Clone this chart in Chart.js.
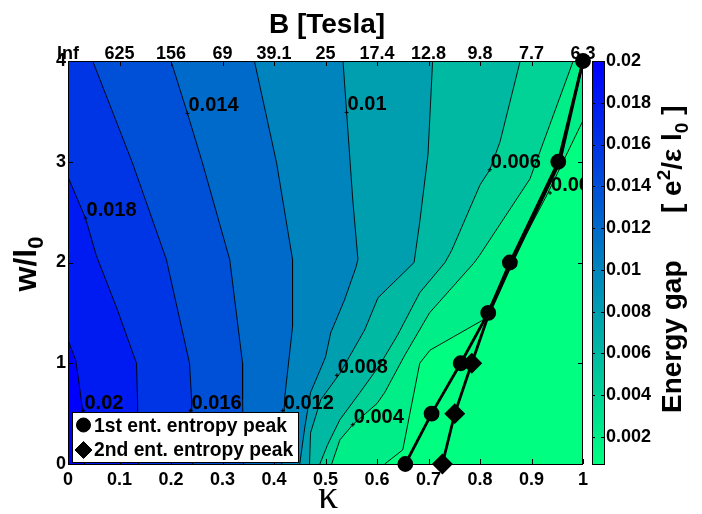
<!DOCTYPE html>
<html>
<head>
<meta charset="utf-8">
<script src="https://cdn.jsdelivr.net/npm/chart.js@4.4.1/dist/chart.umd.min.js"></script>
<style>
  html, body { margin: 0; background: #fff; }
  #wrap { position: relative; width: 702px; height: 514px; }
</style>
</head>
<body>
<div id="wrap"><canvas id="c"></canvas></div>
<script>
// ---- data ----
const levels = [0.002, 0.004, 0.006, 0.008, 0.01, 0.012, 0.014, 0.016, 0.018, 0.02];

// contour paths, [kappa, w/l0] pairs, top/left end first
const c002 = [[1,3.41],[0.93,2.67],[0.868,2.07],[0.806,1.43],[0.703,1.13],[0.683,1.0],[0.65,0.14],[0.615,0]];
const c004 = [[0.981,4],[0.897,2.83],[0.799,2.07],[0.789,2.0],[0.702,1.5],[0.654,1.08],[0.615,0.71],[0.6,0.6],[0.553,0.39],[0.528,0.24],[0.512,0]];
const c006 = [[0.878,4],[0.839,3.2],[0.819,2.92],[0.8,2.77],[0.745,2.12],[0.732,2.0],[0.683,1.7],[0.64,1.28],[0.605,0.98],[0.567,0.71],[0.528,0.44],[0.504,0.19],[0.489,0]];
const c008 = [[0.708,4],[0.699,3.07],[0.683,2.4],[0.672,2.0],[0.602,1.65],[0.576,1.33],[0.528,0.9],[0.491,0.64],[0.471,0.31],[0.469,0]];
const c010 = [[0.534,4],[0.541,3.49],[0.553,2.62],[0.563,2.03],[0.559,1.95],[0.537,1.63],[0.51,1.3],[0.5,1.06],[0.471,0.71],[0.46,0.37],[0.45,0]];
const c012 = [[0.362,4],[0.405,2.99],[0.436,2.03],[0.436,1.36],[0.421,0.67],[0.415,0]];
const c014 = [[0.2,4],[0.232,3.48],[0.261,2.99],[0.314,2.03],[0.339,1.0],[0.339,0.64],[0.341,0]];
const c016 = [[0.048,4],[0.125,2.99],[0.191,2.03],[0.236,1.0],[0.24,0.64],[0.242,0]];
const c018 = [[0,2.85],[0.034,2.44],[0.055,2.07],[0.096,1.53],[0.133,1.0],[0.135,0.64],[0.137,0]];
const c020 = [[0,1.23],[0.015,1.03],[0.022,0.78],[0.028,0.54],[0.032,0]];
const contours = [c002, c004, c006, c008, c010, c012, c014, c016, c018, c020];

// contour labels: value, kappa, w
const labelVals = [0.02, 0.018, 0.016, 0.014, 0.012, 0.01, 0.008, 0.006, 0.004, 0.002];
const labelK    = [0.030, 0.034, 0.238, 0.232, 0.417, 0.541, 0.522, 0.819, 0.553, 0.936];
const labelW    = [0.53, 2.44, 0.53, 3.48, 0.53, 3.49, 0.88, 2.92, 0.39, 2.69];

// entanglement entropy peaks
const peakW  = [0, 0.5, 1, 1.5, 2, 3, 4];
const peak1K = [0.655, 0.706, 0.7625, 0.816, 0.858, 0.952, 1.0];
const peak2K = [0.727, 0.751, 0.784, 0.818, 0.862, 0.955, 1.0];

// axes
const kappaTicks = [0, 0.1, 0.2, 0.3, 0.4, 0.5, 0.6, 0.7, 0.8, 0.9, 1];
const bLabels = ['Inf', '625', '156', '69', '39.1', '25', '17.4', '12.8', '9.8', '7.7', '6.3'];
const wTicks = [0, 1, 2, 3, 4];
const cbTicks = [0.002, 0.004, 0.006, 0.008, 0.01, 0.012, 0.014, 0.016, 0.018, 0.02];
const cMin = 0.0007, cMax = 0.02;

// ---- helpers ----
const FONT = "'Liberation Sans', Arial, sans-serif";
const bold = s => `bold ${s}px ${FONT}`;

// winter colormap, blue at cMax, green at cMin
function gapColor(v){
  const s = Math.min(1, Math.max(0, (v - cMin) / (cMax - cMin)));
  return `rgb(0,${Math.round(255*(1-s))},${Math.round(127.5+127.5*s)})`;
}

function toPx(chart, k, w){
  return [chart.scales.x.getPixelForValue(k), chart.scales.y.getPixelForValue(w)];
}

// draw runs of text along one baseline, with sub/superscript offsets
function richText(ctx, parts, x, y, angle, align){
  ctx.save();
  ctx.translate(x, y);
  ctx.rotate(angle);
  let total = 0;
  parts.forEach(p => { ctx.font = p.font; total += ctx.measureText(p.t).width; });
  let cx = align === 'center' ? -total/2 : 0;
  ctx.textAlign = 'left';
  ctx.textBaseline = 'alphabetic';
  parts.forEach(p => {
    ctx.font = p.font;
    ctx.fillText(p.t, cx, p.dy || 0);
    cx += ctx.measureText(p.t).width;
  });
  ctx.restore();
}

const contourPlot = {
  id: 'contourPlot',
  beforeDatasetsDraw(chart){
    const {ctx, chartArea: a} = chart;
    ctx.save();
    ctx.beginPath(); ctx.rect(a.left, a.top, a.width, a.height); ctx.clip();
    ctx.fillStyle = gapColor(cMin);
    ctx.fillRect(a.left, a.top, a.width, a.height);
    // region above each level = area left of its contour
    contours.forEach((pts, i) => {
      const ring = pts.slice();
      ring.push([0, 0]);
      if (pts[0][0] > 0) ring.push([0, 4]);
      if (pts[0][0] >= 1 && pts[0][1] < 4) ring.push([1, 4]);
      ctx.beginPath();
      ring.forEach(([k, w], j) => {
        const [X, Y] = toPx(chart, k, w);
        j ? ctx.lineTo(X, Y) : ctx.moveTo(X, Y);
      });
      ctx.closePath();
      ctx.fillStyle = gapColor(levels[i]);
      ctx.fill();
    });
    ctx.restore();
  },
  afterDatasetsDraw(chart){
    const {ctx, chartArea: a, scales} = chart;
    ctx.save();
    ctx.strokeStyle = '#000';
    ctx.lineWidth = 1;
    // inward ticks
    ctx.beginPath();
    kappaTicks.forEach(k => {
      const X = Math.round(scales.x.getPixelForValue(k)) + 0.5;
      ctx.moveTo(X, a.bottom); ctx.lineTo(X, a.bottom - 5);
      ctx.moveTo(X, a.top); ctx.lineTo(X, a.top + 5);
    });
    wTicks.forEach(w => {
      const Y = Math.round(scales.y.getPixelForValue(w)) + 0.5;
      ctx.moveTo(a.left, Y); ctx.lineTo(a.left + 5, Y);
      ctx.moveTo(a.right, Y); ctx.lineTo(a.right - 5, Y);
    });
    ctx.stroke();

    // contour labels
    ctx.beginPath(); ctx.rect(a.left, a.top, a.width, a.height); ctx.clip();
    ctx.fillStyle = '#000';
    ctx.font = bold(20);
    ctx.textAlign = 'left';
    ctx.textBaseline = 'alphabetic';
    labelVals.forEach((v, i) => {
      const [X, Y] = toPx(chart, labelK[i], labelW[i]);
      ctx.beginPath();
      ctx.moveTo(X - 2, Y); ctx.lineTo(X + 2, Y);
      ctx.moveTo(X, Y - 2); ctx.lineTo(X, Y + 2);
      ctx.stroke();
      ctx.fillText(String(v), X + 1, Y - 2);
    });
    ctx.restore();

    // axes box
    ctx.save();
    ctx.strokeStyle = '#000';
    ctx.lineWidth = 1;
    ctx.strokeRect(a.left + 0.5, a.top + 0.5, a.width - 1, a.height);
    ctx.restore();
  },
  afterDraw(chart){
    const {ctx, chartArea: a, scales} = chart;
    const yc = scales.yc;
    ctx.save();

    // colorbar
    const bx = a.right + 9, bw = 12;
    const top = yc.getPixelForValue(cMax), bot = yc.getPixelForValue(cMin);
    const g = ctx.createLinearGradient(0, top, 0, bot);
    g.addColorStop(0, gapColor(cMax));
    g.addColorStop(1, gapColor(cMin));
    ctx.fillStyle = g;
    ctx.fillRect(bx, top, bw, bot - top);
    ctx.strokeStyle = '#000';
    ctx.lineWidth = 1;
    ctx.strokeRect(bx + 0.5, top + 0.5, bw, bot - top);
    ctx.beginPath();
    cbTicks.forEach(v => {
      const Y = Math.round(yc.getPixelForValue(v)) + 0.5;
      ctx.moveTo(bx, Y); ctx.lineTo(bx + 3, Y);
      ctx.moveTo(bx + bw, Y); ctx.lineTo(bx + bw - 3, Y);
    });
    ctx.stroke();

    // titles
    ctx.fillStyle = '#000';
    ctx.font = bold(28);
    ctx.textAlign = 'center';
    ctx.textBaseline = 'alphabetic';
    ctx.fillText('B [Tesla]', 327, 33);

    ctx.font = "40px 'Liberation Serif', 'DejaVu Serif', serif";
    ctx.fillText('κ', 328, 508);

    richText(ctx, [
      {t: 'w/l', font: bold(32)},
      {t: '0', font: bold(22), dy: 7}
    ], 36, 264, -Math.PI/2, 'center');

    richText(ctx, [{t: 'Energy gap', font: bold(28)}], 681, 413, -Math.PI/2, 'left');
    richText(ctx, [
      {t: '[ e', font: bold(28)},
      {t: '2', font: bold(19), dy: -11},
      {t: '/ε l', font: bold(28)},
      {t: '0', font: bold(19), dy: 7},
      {t: ' ]', font: bold(28)}
    ], 681, 213, -Math.PI/2, 'left');

    // legend
    const lx = a.left + 4, ly = a.bottom - 52, lw = 226, lh = 50;
    ctx.fillStyle = '#fff';
    ctx.fillRect(lx, ly, lw, lh);
    ctx.strokeStyle = '#000';
    ctx.strokeRect(lx + 0.5, ly + 0.5, lw, lh);
    ctx.fillStyle = '#000';
    Chart.helpers.drawPoint(ctx, {pointStyle: 'circle', radius: 7, borderWidth: 1, rotation: 0}, lx + 11.5, ly + 13);
    Chart.helpers.drawPoint(ctx, {pointStyle: 'rectRot', radius: 8.5, borderWidth: 1, rotation: 0}, lx + 11.5, ly + 38);
    ctx.font = bold(19.3);
    ctx.textAlign = 'left';
    ctx.fillText('1st ent. entropy peak', lx + 22, ly + 20);
    ctx.fillText('2nd ent. entropy peak', lx + 22, ly + 44);
    ctx.restore();
  }
};

// ---- datasets ----
const lineSets = contours.map(pts => ({
  data: pts.map(([k, w]) => ({x: k, y: w})),
  showLine: true,
  borderColor: '#000',
  borderWidth: 0.9,
  pointRadius: 0,
  order: 5
}));

const peak1 = {
  label: '1st ent. entropy peak',
  data: peakW.map((w, i) => ({x: peak1K[i], y: w})),
  showLine: true,
  borderColor: '#000',
  backgroundColor: '#000',
  borderWidth: 2.8,
  pointStyle: 'circle',
  pointRadius: 6.5,
  clip: false,
  order: 1
};
const peak2 = {
  label: '2nd ent. entropy peak',
  data: peakW.map((w, i) => ({x: peak2K[i], y: w})),
  showLine: true,
  borderColor: '#000',
  backgroundColor: '#000',
  borderWidth: 2.8,
  pointStyle: 'rectRot',
  pointRadius: [8.5, 8.5, 8.5, 0, 0, 0, 0],
  clip: false,
  order: 2
};

const tickFont = {family: FONT, size: 18, weight: 'bold'};

new Chart(document.getElementById('c'), {
  type: 'scatter',
  data: { datasets: [...lineSets, peak1, peak2] },
  options: {
    responsive: true,
    maintainAspectRatio: false,
    animation: false,
    devicePixelRatio: 1,
    events: [],
    layout: { padding: 0 },
    plugins: { legend: {display: false}, tooltip: {enabled: false} },
    scales: {
      x: {
        type: 'linear', position: 'bottom', min: 0, max: 1,
        afterBuildTicks: s => { s.ticks = kappaTicks.map(v => ({value: v})); },
        afterFit: s => { s.height = 50; },
        grid: {display: false, drawTicks: false},
        border: {display: false},
        ticks: {font: tickFont, color: '#000', padding: 5, autoSkip: false, maxRotation: 0,
                callback: v => String(v)}
      },
      x2: {
        type: 'linear', position: 'top', min: 0, max: 1,
        afterBuildTicks: s => { s.ticks = kappaTicks.map(v => ({value: v})); },
        afterFit: s => { s.height = 61; },
        grid: {display: false, drawTicks: false},
        border: {display: false},
        ticks: {font: tickFont, color: '#000', padding: -4, autoSkip: false, maxRotation: 0,
                callback: (v, i) => bLabels[i]}
      },
      y: {
        type: 'linear', position: 'left', min: 0, max: 4,
        afterBuildTicks: s => { s.ticks = wTicks.map(v => ({value: v})); },
        afterFit: s => { s.width = 68; },
        grid: {display: false, drawTicks: false},
        border: {display: false},
        ticks: {font: tickFont, color: '#000', padding: 2, autoSkip: false,
                callback: v => String(v)}
      },
      yc: {
        type: 'linear', position: 'right', min: cMin, max: cMax,
        afterBuildTicks: s => { s.ticks = cbTicks.map(v => ({value: v})); },
        afterFit: s => { s.width = 119; },
        grid: {display: false, drawTicks: false},
        border: {display: false},
        ticks: {font: tickFont, color: '#000', padding: 23, autoSkip: false,
                callback: v => String(+v.toFixed(3))}
      }
    }
  },
  plugins: [contourPlot]
});
</script>
</body>
</html>
